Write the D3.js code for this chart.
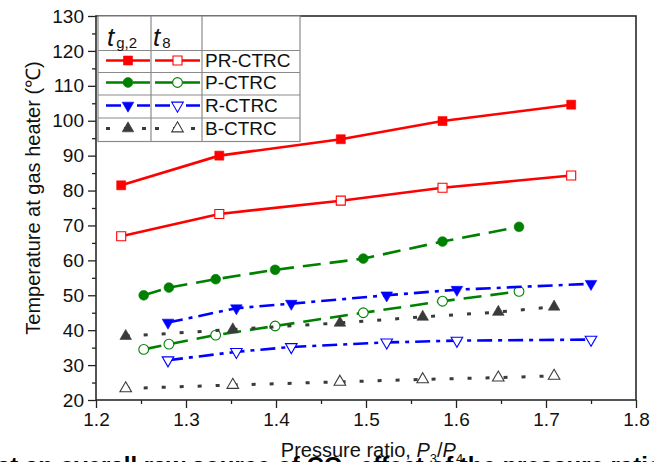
<!DOCTYPE html>
<html><head><meta charset="utf-8">
<script src="https://cdn.jsdelivr.net/npm/d3@7"></script>
<style>
body{margin:0;background:#fff;}
svg{display:block;}
text{font-family:"Liberation Sans",Arial,Helvetica,sans-serif;fill:#111;}
</style>
</head><body>
<svg id="c" width="654" height="462"></svg>
<script>
// ---- data ----
const xTicks = [1.2, 1.3, 1.4, 1.5, 1.6, 1.7, 1.8];
const xMinor = [1.25, 1.35, 1.45, 1.55, 1.65, 1.75];
const yTicks = [20, 30, 40, 50, 60, 70, 80, 90, 100, 110, 120, 130];
const yMinor = [25, 35, 45, 55, 65, 75, 85, 95, 105, 115, 125];
const seriesNames = ["PR-CTRC", "P-CTRC", "R-CTRC", "B-CTRC"];

const prX   = [1.228, 1.337, 1.472, 1.585, 1.728];
const prTg2 = [81.5, 90.0, 94.7, 99.9, 104.6];
const prT8  = [66.9, 73.3, 77.1, 80.8, 84.3];

const pX   = [1.253, 1.281, 1.333, 1.399, 1.497, 1.585, 1.670];
const pTg2 = [50.0, 52.2, 54.6, 57.3, 60.5, 65.4, 69.6];
const pT8  = [34.5, 36.0, 38.6, 41.2, 45.0, 48.3, 51.1];

const rX   = [1.280, 1.356, 1.417, 1.523, 1.601, 1.750];
const rTg2 = [42.2, 46.3, 47.6, 50.0, 51.6, 53.3];
const rT8  = [31.4, 33.8, 35.2, 36.5, 37.0, 37.3];

const bX   = [1.233, 1.352, 1.471, 1.563, 1.647, 1.709];
const bTg2 = [38.3, 40.2, 42.1, 43.8, 45.2, 46.7];
const bT8  = [23.3, 24.3, 25.2, 25.9, 26.4, 26.9];

// ---- setup ----
const svg = d3.select("#c");
const L = 96, R = 636, T = 16, B = 400;
const x = d3.scaleLinear().domain([1.2, 1.8]).range([L, R]);
const y = d3.scaleLinear().domain([20, 130]).range([B, T]);

const styles = [
  {color:"#ff0000", dash:null,        shape:d3.symbolSquare,   size:81, rot:0},
  {color:"#008000", dash:"18,9",      shape:d3.symbolCircle,   size:75, rot:0},
  {color:"#0000ff", dash:"15,6,4,6",  shape:d3.symbolTriangle, size:58, rot:180},
  {color:"#3a3a3a", dash:"4,14",      shape:d3.symbolTriangle, size:58, rot:0}
];
const series = [
  {xs:prX, a:prTg2, b:prT8},
  {xs:pX,  a:pTg2,  b:pT8},
  {xs:rX,  a:rTg2,  b:rT8},
  {xs:bX,  a:bTg2,  b:bT8}
];

// bottom caption fragment (cut off by page edge, as in the reference)
svg.append("text").attr("x", -3).attr("y", 474)
  .style("font-size","24px").style("font-weight","bold").style("fill","#000")
  .text("at an overall raw source of CO\u2082 effect of the pressure ratio on the performance of");

// axes ticks
const fmt = d3.format(".1f");
const gx = svg.append("g").attr("transform",`translate(0,${B})`)
  .call(d3.axisBottom(x).tickValues(xTicks).tickSize(8).tickPadding(5).tickFormat(fmt));
const gxm = svg.append("g").attr("transform",`translate(0,${B})`)
  .call(d3.axisBottom(x).tickValues(xMinor).tickSize(4).tickFormat(""));
const gy = svg.append("g").attr("transform",`translate(${L},0)`)
  .call(d3.axisLeft(y).tickValues(yTicks).tickSize(8).tickPadding(4));
const gym = svg.append("g").attr("transform",`translate(${L},0)`)
  .call(d3.axisLeft(y).tickValues(yMinor).tickSize(4).tickFormat(""));
[gx,gxm,gy,gym].forEach(g=>{
  g.select(".domain").remove();
  g.selectAll(".tick line").attr("stroke","#222").attr("stroke-width",1.3);
  g.selectAll("text").style("font-size","19px").style("font-family",'"Liberation Sans",Arial,sans-serif').attr("fill","#111");
});

// frame
svg.append("rect").attr("x",L).attr("y",T).attr("width",R-L).attr("height",B-T)
  .attr("fill","none").attr("stroke","#2a2a2a").attr("stroke-width",1.6);

// lines & markers
const line = d3.line().x(d=>x(d[0])).y(d=>y(d[1]));
function drawMarker(g, cx, cy, st, filled){
  g.append("path")
    .attr("d", d3.symbol().type(st.shape).size(st.size)())
    .attr("transform", `translate(${cx},${cy}) rotate(${st.rot})`)
    .attr("fill", filled ? st.color : "#fff")
    .attr("stroke", st.color)
    .attr("stroke-width", filled ? 0.6 : 1.1);
}
const plot = svg.append("g");
series.forEach((s,i)=>{
  const st = styles[i];
  [s.a, s.b].forEach((vals,k)=>{
    const pts = s.xs.map((xv,j)=>[xv, vals[j]]);
    plot.append("path").attr("d", line(pts))
      .attr("fill","none").attr("stroke", st.color)
      .attr("stroke-width", i===3 ? 3 : 2.6)
      .attr("stroke-dasharray", st.dash)
      .attr("stroke-linecap", "butt");
    pts.forEach(p=>drawMarker(plot, x(p[0]), y(p[1]), st, k===0));
  });
});

// legend
const lg = svg.append("g");
const lgL = 98, lgR = 300, c1 = 151, c2 = 202;
const rowsY = [T, 50.5, 72.5, 95, 118, 141.5];
lg.append("rect").attr("x",lgL).attr("y",T).attr("width",lgR-lgL).attr("height",rowsY[5]-T)
  .attr("fill","#fff").attr("stroke","#8a8a8a").attr("stroke-width",1.2);
[c1,c2].forEach(cx=>lg.append("line").attr("x1",cx).attr("x2",cx).attr("y1",T).attr("y2",rowsY[5])
  .attr("stroke","#8a8a8a").attr("stroke-width",1.2));
rowsY.slice(1,5).forEach(ry=>lg.append("line").attr("x1",lgL).attr("x2",lgR).attr("y1",ry).attr("y2",ry)
  .attr("stroke","#8a8a8a").attr("stroke-width",1.2));
// header
const h1 = lg.append("text").attr("x",107).attr("y",46);
h1.append("tspan").style("font-style","italic").style("font-size","26px").text("t");
h1.append("tspan").attr("dx",2).attr("dy",2).style("font-size","15px").text("g,2");
const h2 = lg.append("text").attr("x",153).attr("y",46);
h2.append("tspan").style("font-style","italic").style("font-size","26px").text("t");
h2.append("tspan").attr("dx",2).attr("dy",2).style("font-size","15px").text("8");
// rows
const lineYs = [60.5, 82.5, 105.5, 128.5];
const textYs = [67, 89, 112, 135];
seriesNames.forEach((name,i)=>{
  const st = styles[i];
  [[106,150,128,true],[155,200,177.5,false]].forEach(([a,b,m,filled])=>{
    lg.append("line").attr("x1",a).attr("x2",b).attr("y1",lineYs[i]).attr("y2",lineYs[i])
      .attr("stroke",st.color).attr("stroke-width", i===3 ? 3 : 2.6)
      .attr("stroke-dasharray",st.dash);
    drawMarker(lg, m, lineYs[i], st, filled);
  });
  lg.append("text").attr("x",205).attr("y",textYs[i]).style("font-size","19px").text(name);
});

// axis titles
svg.append("text").attr("transform","rotate(-90)").attr("x",-198).attr("y",40)
  .attr("text-anchor","middle").style("font-size","20px")
  .text("Temperature at gas heater (\u2103)");
const xt = svg.append("text").attr("x",372).attr("y",457).attr("text-anchor","middle").style("font-size","20px");
xt.append("tspan").text("Pressure ratio, ");
xt.append("tspan").style("font-style","italic").text("P");
xt.append("tspan").attr("dy",6).style("font-size","13px").text("3");
xt.append("tspan").attr("dy",-6).text("/");
xt.append("tspan").style("font-style","italic").text("P");
xt.append("tspan").attr("dy",6).style("font-size","13px").text("4");
</script>
</body></html>
